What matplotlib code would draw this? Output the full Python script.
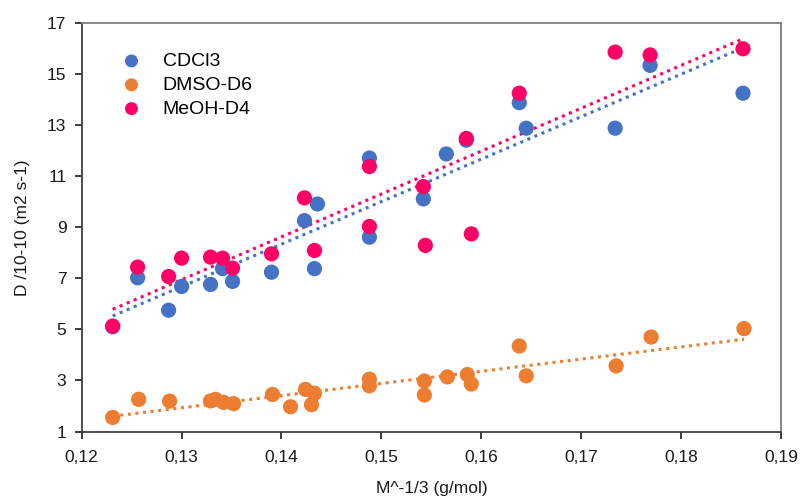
import matplotlib.pyplot as plt
import numpy as np

plt.rcParams['font.family'] = ['Liberation Sans', 'DejaVu Sans']

# M^-1/3 values and diffusion coefficients
x_cdcl3 = [0.1231, 0.1256, 0.1287, 0.1300, 0.1329, 0.1341, 0.1351, 0.1390, 0.1423, 0.1436, 0.1433,
           0.1488, 0.1488, 0.1542, 0.1565, 0.1585, 0.1638, 0.1645, 0.1734, 0.1769, 0.1862]
d_cdcl3 = [5.10, 7.02, 5.75, 6.68, 6.76, 7.38, 6.88, 7.24, 9.26, 9.91, 7.38,
           11.71, 8.61, 10.11, 11.87, 12.41, 13.88, 12.88, 12.88, 15.34, 14.25]

x_dmso = [0.1231, 0.1257, 0.1288, 0.1329, 0.1334, 0.1342, 0.1352, 0.1391, 0.1409, 0.1424,
          0.1430, 0.1433, 0.1488, 0.1488, 0.1543, 0.1543, 0.1566, 0.1586, 0.1590, 0.1638,
          0.1645, 0.1735, 0.1770, 0.1863]
d_dmso = [1.55, 2.26, 2.19, 2.20, 2.26, 2.14, 2.09, 2.45, 1.97, 2.65,
          2.05, 2.50, 3.05, 2.79, 2.98, 2.43, 3.14, 3.23, 2.86, 4.35,
          3.18, 3.57, 4.70, 5.03]

x_meoh = [0.1231, 0.1256, 0.1287, 0.1300, 0.1329, 0.1341, 0.1351, 0.1390, 0.1423, 0.1433,
          0.1488, 0.1488, 0.1542, 0.1544, 0.1585, 0.1590, 0.1638, 0.1734, 0.1769, 0.1862]
d_meoh = [5.13, 7.44, 7.07, 7.79, 7.83, 7.79, 7.40, 7.96, 10.15, 8.09,
          11.38, 9.03, 10.59, 8.29, 12.48, 8.74, 14.25, 15.86, 15.75, 15.99]

xticks = [0.12, 0.13, 0.14, 0.15, 0.16, 0.17, 0.18, 0.19]
xticklabels = ['0,12', '0,13', '0,14', '0,15', '0,16', '0,17', '0,18', '0,19']
yticks = [1, 3, 5, 7, 9, 11, 13, 15, 17]

series = [
    ('CDCl3', x_cdcl3, d_cdcl3, '#4472C4'),
    ('DMSO-D6', x_dmso, d_dmso, '#ED7D31'),
    ('MeOH-D4', x_meoh, d_meoh, '#FF0066'),
]

fig = plt.figure(figsize=(8.01, 5.0), dpi=100)
ax = fig.add_axes([0.102, 0.137, 0.873, 0.817])

for name, xs, ys, col in series:
    ax.scatter(xs, ys, s=120, color=col, edgecolors='none', label=name, zorder=3)

# linear trendlines (dotted)
for name, xs, ys, col in series:
    k, b = np.polyfit(xs, ys, 1)
    xx = np.array([min(xs), max(xs)])
    ax.plot(xx, k * xx + b, linestyle=(0, (1, 1.5)), color=col, linewidth=2.2, zorder=2)

ax.set_xlim(0.12, 0.19)
ax.set_ylim(1, 17)
ax.set_xticks(xticks)
ax.set_xticklabels(xticklabels)
ax.set_yticks(yticks)
ax.tick_params(direction='out', length=5, width=1.2, labelsize=12.5, colors='#1a1a1a')
ax.tick_params(axis='x', pad=8)
ax.tick_params(axis='y', pad=6)

for side in ['left', 'bottom']:
    ax.spines[side].set_color('#404040')
    ax.spines[side].set_linewidth(1.3)
for side in ['top', 'right']:
    ax.spines[side].set_color('#7f7f7f')
    ax.spines[side].set_linewidth(1.3)

ax.set_xlabel('M^-1/3 (g/mol)', fontsize=12.5, color='#1a1a1a', labelpad=12)
ax.set_ylabel('D /10-10 (m2 s-1)', fontsize=12.5, color='#1a1a1a', labelpad=12)

ax.legend(loc='upper left', bbox_to_anchor=(0.01, 0.985), frameon=False, fontsize=14,
          handletextpad=0.6, labelspacing=0.32, markerscale=0.85, borderaxespad=0.8)

plt.savefig('out.png', dpi=100)
